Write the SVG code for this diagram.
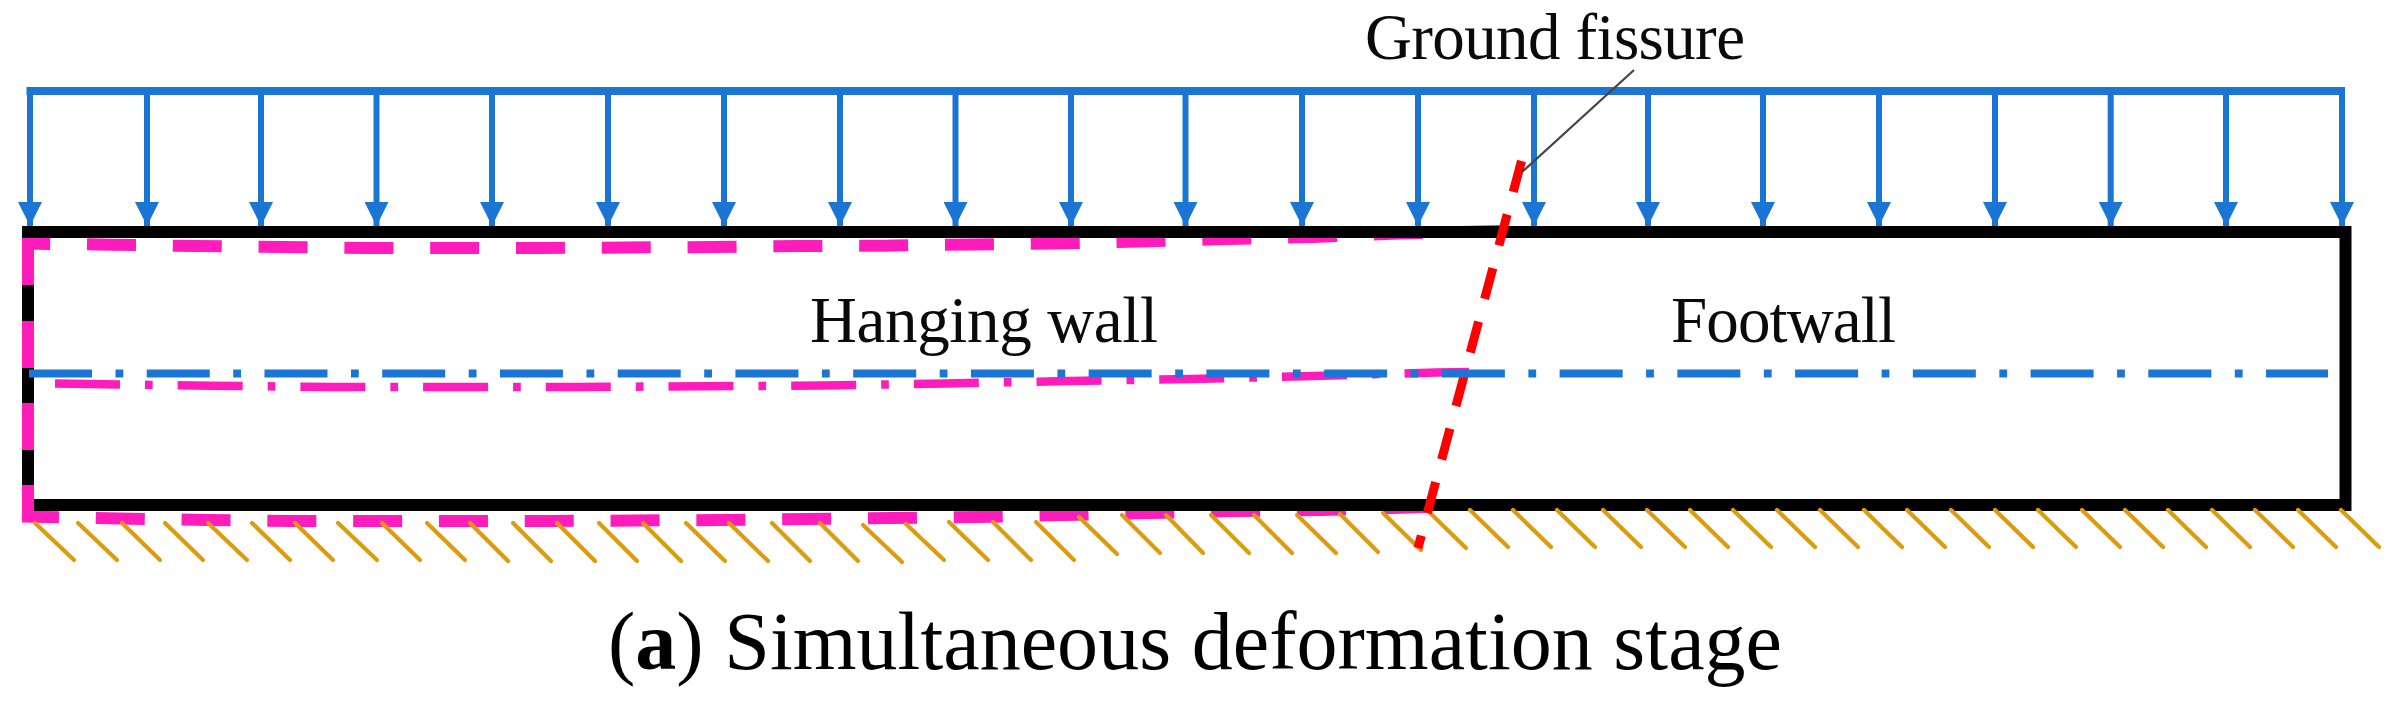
<svg xmlns="http://www.w3.org/2000/svg" width="2404" height="709" viewBox="0 0 2404 709">
<style>
text{font-family:"Liberation Serif","Times New Roman",serif;fill:#0a0a0a}
.lbl{font-size:65px}
.cap{font-size:82px;fill:#000}
.mg{fill:none;stroke:#ff1cbc}
.load{stroke:#1a75d4;stroke-width:6;fill:none;marker-end:url(#head)}
.hatch line{stroke:#dd9c10;stroke-width:4.2;stroke-linecap:round}
</style>
<defs>
<marker id="head" markerUnits="userSpaceOnUse" markerWidth="24" markerHeight="24" refX="24" refY="12" orient="auto" viewBox="0 0 24 24">
<polygon points="0,0 24,12 0,24" fill="#1a75d4"/>
</marker>
</defs>
<rect width="2404" height="709" fill="#fff"/>

<g id="deformed-hanging-wall">
<polyline class="mg" stroke-width="12" stroke-dasharray="49 36.8" stroke-dashoffset="20.8" points="22,243.5 112,244.7 197,246 283,247 369,248 455,248 540,248 626,247.5 712,247 798,246 884,245.7 970,244.5 1055,243.5 1141,241.5 1227,239 1313,237 1398,233.5 1500,231"/>
<polyline class="mg" stroke-width="8.5" stroke-dasharray="65 25 7.7 25" points="55,383.5 210,385.8 333,387 455,387 578,387 700,386.3 823,385.5 946,383.5 1068,381 1191,379 1314,376 1436,372.5 1469,372"/>
<polyline class="mg" stroke-width="12" stroke-dasharray="49 36.8" stroke-dashoffset="12" points="22,516.5 120,518.6 206,520 292,521 378,521 463,521 550,521 635,520.5 720,520 806,519 892,518 978,517 1064,515 1150,513 1236,511 1322,510 1426,507"/>
</g>

<g id="model-outline">
<rect x="28" y="232" width="2317.5" height="273" fill="none" stroke="#000" stroke-width="12"/>
</g>

<g id="left-boundary">
<path d="M28,238V285M28,321V368M28,403V450M28,485V522" fill="none" stroke="#ff1cbc" stroke-width="12"/>
</g>

<g id="fixed-base" class="hatch">
<line x1="35" y1="523" x2="74" y2="560"/><line x1="78" y1="523" x2="117" y2="560"/><line x1="122" y1="523" x2="160" y2="560"/><line x1="165" y1="523" x2="203" y2="560"/><line x1="208" y1="523" x2="247" y2="560"/><line x1="252" y1="523" x2="290" y2="560"/><line x1="295" y1="523" x2="333" y2="560"/><line x1="338" y1="523" x2="377" y2="560"/><line x1="382" y1="523" x2="420" y2="560"/><line x1="427" y1="523" x2="465" y2="560"/><line x1="470" y1="523" x2="508" y2="561"/><line x1="513" y1="523" x2="551" y2="561"/><line x1="557" y1="523" x2="595" y2="561"/><line x1="599" y1="523" x2="637" y2="561"/><line x1="643" y1="523" x2="681" y2="561"/><line x1="686" y1="523" x2="725" y2="561"/><line x1="729" y1="523" x2="768" y2="561"/><line x1="772" y1="523" x2="810" y2="561"/><line x1="820" y1="523" x2="858" y2="561"/><line x1="863" y1="525" x2="902" y2="562"/><line x1="906" y1="524" x2="944" y2="560"/><line x1="949" y1="522" x2="988" y2="560"/><line x1="993" y1="522" x2="1031" y2="560"/><line x1="1036" y1="522" x2="1074" y2="560"/><line x1="1079" y1="517" x2="1117" y2="554"/><line x1="1122" y1="515" x2="1160" y2="553"/><line x1="1166" y1="515" x2="1203" y2="553"/><line x1="1211" y1="515" x2="1249" y2="553"/><line x1="1254" y1="515" x2="1292" y2="553"/><line x1="1297" y1="515" x2="1336" y2="553"/><line x1="1340" y1="514" x2="1378" y2="552"/><line x1="1383" y1="513" x2="1421" y2="550"/><line x1="1428" y1="511" x2="1466" y2="548"/><line x1="1470" y1="510" x2="1508" y2="547"/><line x1="1513" y1="510" x2="1551" y2="547"/><line x1="1557" y1="510" x2="1595" y2="547"/><line x1="1603" y1="510" x2="1641" y2="547"/><line x1="1647" y1="510" x2="1685" y2="547"/><line x1="1690" y1="510" x2="1728" y2="547"/><line x1="1733" y1="510" x2="1771" y2="547"/><line x1="1777" y1="510" x2="1815" y2="547"/><line x1="1820" y1="510" x2="1858" y2="547"/><line x1="1864" y1="510" x2="1902" y2="547"/><line x1="1907" y1="510" x2="1945" y2="547"/><line x1="1951" y1="510" x2="1989" y2="547"/><line x1="1995" y1="510" x2="2033" y2="547"/><line x1="2038" y1="510" x2="2076" y2="547"/><line x1="2082" y1="510" x2="2120" y2="547"/><line x1="2125" y1="510" x2="2163" y2="547"/><line x1="2168" y1="510" x2="2206" y2="547"/><line x1="2212" y1="510" x2="2250" y2="547"/><line x1="2255" y1="510" x2="2293" y2="547"/><line x1="2298" y1="510" x2="2336" y2="547"/><line x1="2341" y1="510" x2="2379" y2="547"/>
</g>

<g id="fissure">
<line x1="1521.5" y1="161" x2="1418" y2="548" stroke="#ff0000" stroke-width="9" stroke-dasharray="32 23.4"/>
</g>

<g id="centerline">
<line x1="29" y1="373.5" x2="2328" y2="373.5" stroke="#1a75d4" stroke-width="8" stroke-dasharray="63 23.5 7.8 23.44"/>
</g>

<g id="connectors">
<rect x="26.5" y="87" width="2318.5" height="8" fill="#1a75d4"/>
<path class="load" d="M30,91V226"/><path class="load" d="M147,91V226"/><path class="load" d="M261,91V226"/><path class="load" d="M376.5,91V226"/><path class="load" d="M492,91V226"/><path class="load" d="M608,91V226"/><path class="load" d="M724,91V226"/><path class="load" d="M840,91V226"/><path class="load" d="M955.5,91V226"/><path class="load" d="M1071,91V226"/><path class="load" d="M1185.5,91V226"/><path class="load" d="M1302,91V226"/><path class="load" d="M1418,91V226"/><path class="load" d="M1534,91V226"/><path class="load" d="M1648,91V226"/><path class="load" d="M1763,91V226"/><path class="load" d="M1879,91V226"/><path class="load" d="M1995,91V226"/><path class="load" d="M2110.7,91V226"/><path class="load" d="M2226,91V226"/><path class="load" d="M2342,91V226"/>
<line id="leader" x1="1634" y1="70" x2="1522" y2="172" stroke="#444" stroke-width="2.2"/>
</g>

<g id="label-ground-fissure"><text class="lbl" x="1365" y="59" textLength="380">Ground fissure</text></g>
<g id="label-hanging-wall"><text class="lbl" x="810" y="341.5" textLength="348">Hanging wall</text></g>
<g id="label-footwall"><text class="lbl" x="1671" y="341.5" textLength="225">Footwall</text></g>
<g id="caption"><text class="cap" x="608" y="669" textLength="1174">(<tspan font-weight="bold">a</tspan>) Simultaneous deformation stage</text></g>
</svg>
